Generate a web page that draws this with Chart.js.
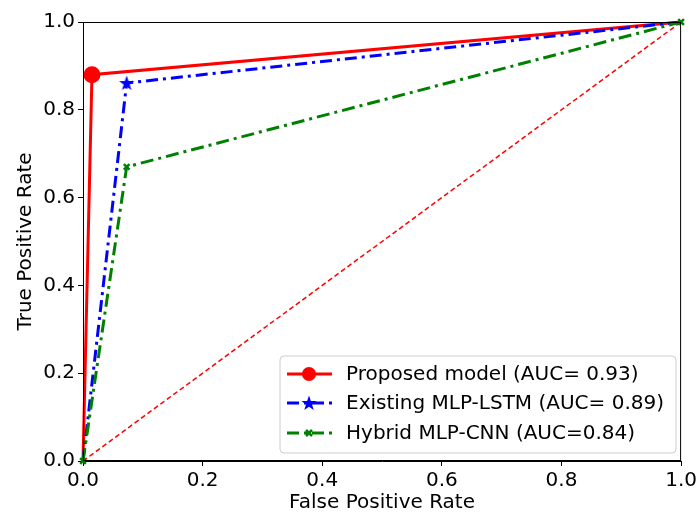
<!DOCTYPE html>
<html>
<head>
<meta charset="utf-8">
<script src="https://cdn.jsdelivr.net/npm/chart.js@4/dist/chart.umd.min.js"></script>
<style>
  html, body { margin: 0; padding: 0; background: #fff; }
  #wrap { width: 700px; height: 516px; }
</style>
</head>
<body>
<div id="wrap"><canvas id="roc" width="700" height="516"></canvas></div>
<script>
// ROC curve points
var proposedFpr = [0, 0.015, 1]
var proposedTpr = [0, 0.88, 1]
var lstmFpr = [0, 0.073, 1]
var lstmTpr = [0, 0.861, 1]
var cnnFpr = [0, 0.073, 1]
var cnnTpr = [0, 0.67, 1]
var chanceFpr = [0, 1]
var chanceTpr = [0, 1]

var labels = ['Proposed model (AUC= 0.93)', 'Existing MLP-LSTM (AUC= 0.89)', 'Hybrid MLP-CNN (AUC=0.84)']
var axisTicks = [0, 0.2, 0.4, 0.6, 0.8, 1.0]

var FONT = 'DejaVu Sans'
var FSIZE = 20

var toPoints = (xs, ys) => xs.map((x, i) => ({ x: x, y: ys[i] }))

// filled 5 point star like matplotlib '*'
var makeStar = (color, r) => {
  var c = document.createElement('canvas')
  c.width = r * 2 + 2
  c.height = r * 2 + 2
  var g = c.getContext('2d')
  g.fillStyle = color
  g.beginPath()
  for (var i = 0; i < 10; i++) {
    var rr = i % 2 === 0 ? r : r * 0.4
    var a = -Math.PI / 2 + i * Math.PI / 5
    var px = r + 1 + rr * Math.cos(a)
    var py = r + 1.5 + rr * Math.sin(a)
    if (i === 0) g.moveTo(px, py); else g.lineTo(px, py)
  }
  g.closePath()
  g.fill()
  return c
}
var blueStar = makeStar('#0000ff', 8)

var legendPlugin = {
  id: 'boxAndLegend',
  afterDraw: (chart) => {
    var ctx = chart.ctx
    var a = chart.chartArea
    ctx.save()
    // frame around plot
    ctx.strokeStyle = '#000'
    ctx.lineWidth = 1
    ctx.strokeRect(a.left + 0.5, a.top + 0.5, a.right - a.left - 1, a.bottom - a.top - 1)

    // legend box
    var bx = 280, by = 356, bw = 396, bh = 97, r = 4
    ctx.fillStyle = 'rgba(255,255,255,0.85)'
    ctx.strokeStyle = '#cccccc'
    ctx.lineWidth = 1
    ctx.beginPath()
    ctx.moveTo(bx + r, by)
    ctx.arcTo(bx + bw, by, bx + bw, by + bh, r)
    ctx.arcTo(bx + bw, by + bh, bx, by + bh, r)
    ctx.arcTo(bx, by + bh, bx, by, r)
    ctx.arcTo(bx, by, bx + bw, by, r)
    ctx.closePath()
    ctx.fill()
    ctx.stroke()

    var rows = [374, 403, 433]
    var colors = ['#ff0000', '#0000ff', '#008000']
    rows.forEach((y, i) => {
      ctx.strokeStyle = colors[i]
      ctx.lineWidth = 3
      ctx.setLineDash(i === 0 ? [] : [12, 5, 3, 5])
      ctx.beginPath()
      ctx.moveTo(287, y)
      ctx.lineTo(332, y)
      ctx.stroke()
      ctx.setLineDash([])
      if (i === 0) {
        ctx.fillStyle = colors[0]
        ctx.beginPath()
        ctx.arc(309, y, 7, 0, Math.PI * 2)
        ctx.fill()
      } else if (i === 1) {
        ctx.drawImage(blueStar, 309 - blueStar.width / 2, y - blueStar.height / 2)
      } else {
        ctx.lineWidth = 2.5
        ctx.beginPath()
        ctx.moveTo(306, y - 3); ctx.lineTo(312, y + 3)
        ctx.moveTo(312, y - 3); ctx.lineTo(306, y + 3)
        ctx.stroke()
      }
      ctx.fillStyle = '#000'
      ctx.font = FSIZE + 'px "' + FONT + '"'
      ctx.textBaseline = 'middle'
      ctx.fillText(labels[i], 346, y + 1)
    })
    ctx.restore()
  }
}

var tickOpts = {
  color: '#000',
  font: { family: FONT, size: FSIZE },
  padding: 3,
  callback: (v) => axisTicks.includes(Math.round(v * 10) / 10) ? v.toFixed(1) : ''
}

new Chart(document.getElementById('roc'), {
  type: 'scatter',
  data: {
    datasets: [
      {
        label: labels[0],
        data: toPoints(proposedFpr, proposedTpr),
        showLine: true,
        borderColor: '#ff0000',
        backgroundColor: '#ff0000',
        borderWidth: 3,
        pointRadius: [0, 7, 0],
        pointStyle: 'circle',
        clip: false,
        order: 3
      },
      {
        label: labels[1],
        data: toPoints(lstmFpr, lstmTpr),
        showLine: true,
        borderColor: '#0000ff',
        backgroundColor: '#0000ff',
        borderWidth: 3,
        borderDash: [12, 5, 3, 5],
        pointRadius: [0, 8, 0],
        pointStyle: blueStar,
        clip: false,
        order: 2
      },
      {
        label: labels[2],
        data: toPoints(cnnFpr, cnnTpr),
        showLine: true,
        borderColor: '#008000',
        backgroundColor: '#008000',
        borderWidth: 3,
        borderDash: [13, 5, 3, 5],
        pointRadius: 4,
        pointBorderWidth: 2.5,
        pointStyle: 'crossRot',
        clip: false,
        order: 1
      },
      {
        label: 'chance',
        data: toPoints(chanceFpr, chanceTpr),
        showLine: true,
        borderColor: '#ff0000',
        borderWidth: 1.5,
        borderDash: [5, 3],
        pointRadius: 0,
        clip: false,
        order: 4
      }
    ]
  },
  options: {
    responsive: false,
    animation: false,
    events: [],
    layout: { padding: { top: 22, right: 16, left: 0, bottom: 0 } },
    plugins: {
      legend: { display: false },
      tooltip: { enabled: false }
    },
    scales: {
      x: {
        type: 'linear',
        min: 0,
        max: 1,
        afterFit: (s) => { s.height = 55 },
        afterBuildTicks: (s) => { s.ticks = axisTicks.map((v) => ({ value: v })) },
        grid: { drawOnChartArea: false, drawTicks: true, tickLength: 5, color: '#000' },
        border: { color: '#000', width: 1 },
        ticks: tickOpts,
        title: { display: true, text: 'False Positive Rate', color: '#000', font: { family: FONT, size: FSIZE }, padding: { top: 0, bottom: 1 } }
      },
      y: {
        type: 'linear',
        min: 0,
        max: 1,
        afterFit: (s) => { s.width = 83 },
        afterBuildTicks: (s) => { s.ticks = axisTicks.map((v) => ({ value: v })) },
        grid: { drawOnChartArea: false, drawTicks: true, tickLength: 5, color: '#000' },
        border: { color: '#000', width: 1 },
        ticks: tickOpts,
        title: { display: true, text: 'True Positive Rate', color: '#000', font: { family: FONT, size: FSIZE }, padding: { top: 14, bottom: 0 } }
      }
    }
  },
  plugins: [legendPlugin]
})
</script>
</body>
</html>
